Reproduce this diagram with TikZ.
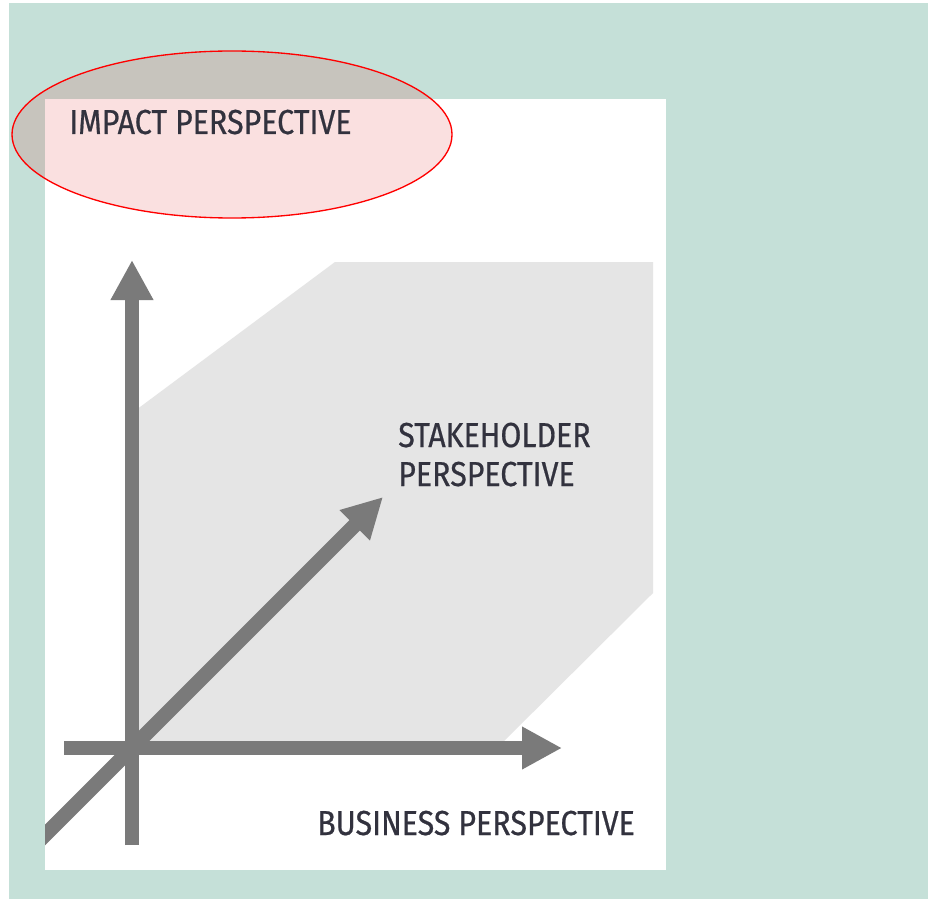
\documentclass[tikz,border=0pt]{standalone}
\usepackage{fontspec}
\usetikzlibrary{arrows.meta,positioning}
\newfontfamily\axisfont[FakeStretch=0.875,FakeBold=0.6]{Fira Sans}
\definecolor{mint}{RGB}{197,224,216}
\definecolor{bandgray}{RGB}{229,229,229}
\definecolor{axisgray}{RGB}{122,122,122}
\definecolor{labelink}{RGB}{50,50,62}
\tikzset{
  axis/.style={draw=axisgray, line width=11pt, -{Triangle[length=30pt,width=30pt]}},
  axislabel/.style={font=\axisfont\fontsize{26}{31}\selectfont, text=labelink, inner sep=0pt, anchor=base west},
}
\begin{document}
\begin{tikzpicture}[x=0.75pt,y=-0.75pt]
        \useasboundingbox (0,0) rectangle (930,902);
        % backdrop and panel
        \fill[mint] (9,3) rectangle (928,899);
        \fill[white] (45,99) rectangle (666,870);
        % grey band
        \fill[bandgray] (132,413) -- (335,262) -- (653,262) -- (653,593) -- (497,748) -- (132,748) -- cycle;
        % axes
        \coordinate (origin) at (132,748);
        \coordinate (impactEnd) at (132,260);
        \coordinate (businessEnd) at (562,748);
        \coordinate (stakeEnd) at (383,497);
        \coordinate (impactStart) at (132,845);
        \coordinate (businessStart) at (64,748);
        \coordinate (stakeStart) at (30,850);
        \begin{scope}
          \clip (45,99) rectangle (666,870);
          \draw[axis] (stakeStart) -- (stakeEnd);
        \end{scope}
        \draw[axis] (impactStart) -- (impactEnd);
        \draw[axis] (businessStart) -- (businessEnd);
        % highlight
        \draw[red, line width=1pt, fill=red!85!black, fill opacity=0.12] (232,134.5) ellipse [x radius=220, y radius=83.5];
        % labels
        \node[axislabel] (impactLabel) at (69,134) {IMPACT PERSPECTIVE};
        \node[axislabel] (stakeUpper) at (398,447) {STAKEHOLDER};
        \node[axislabel] (stakeLower) at (398,486) {PERSPECTIVE};
        \node[axislabel] (businessLabel) at (317,835) {BUSINESS PERSPECTIVE};
      \end{tikzpicture}
\end{document}
